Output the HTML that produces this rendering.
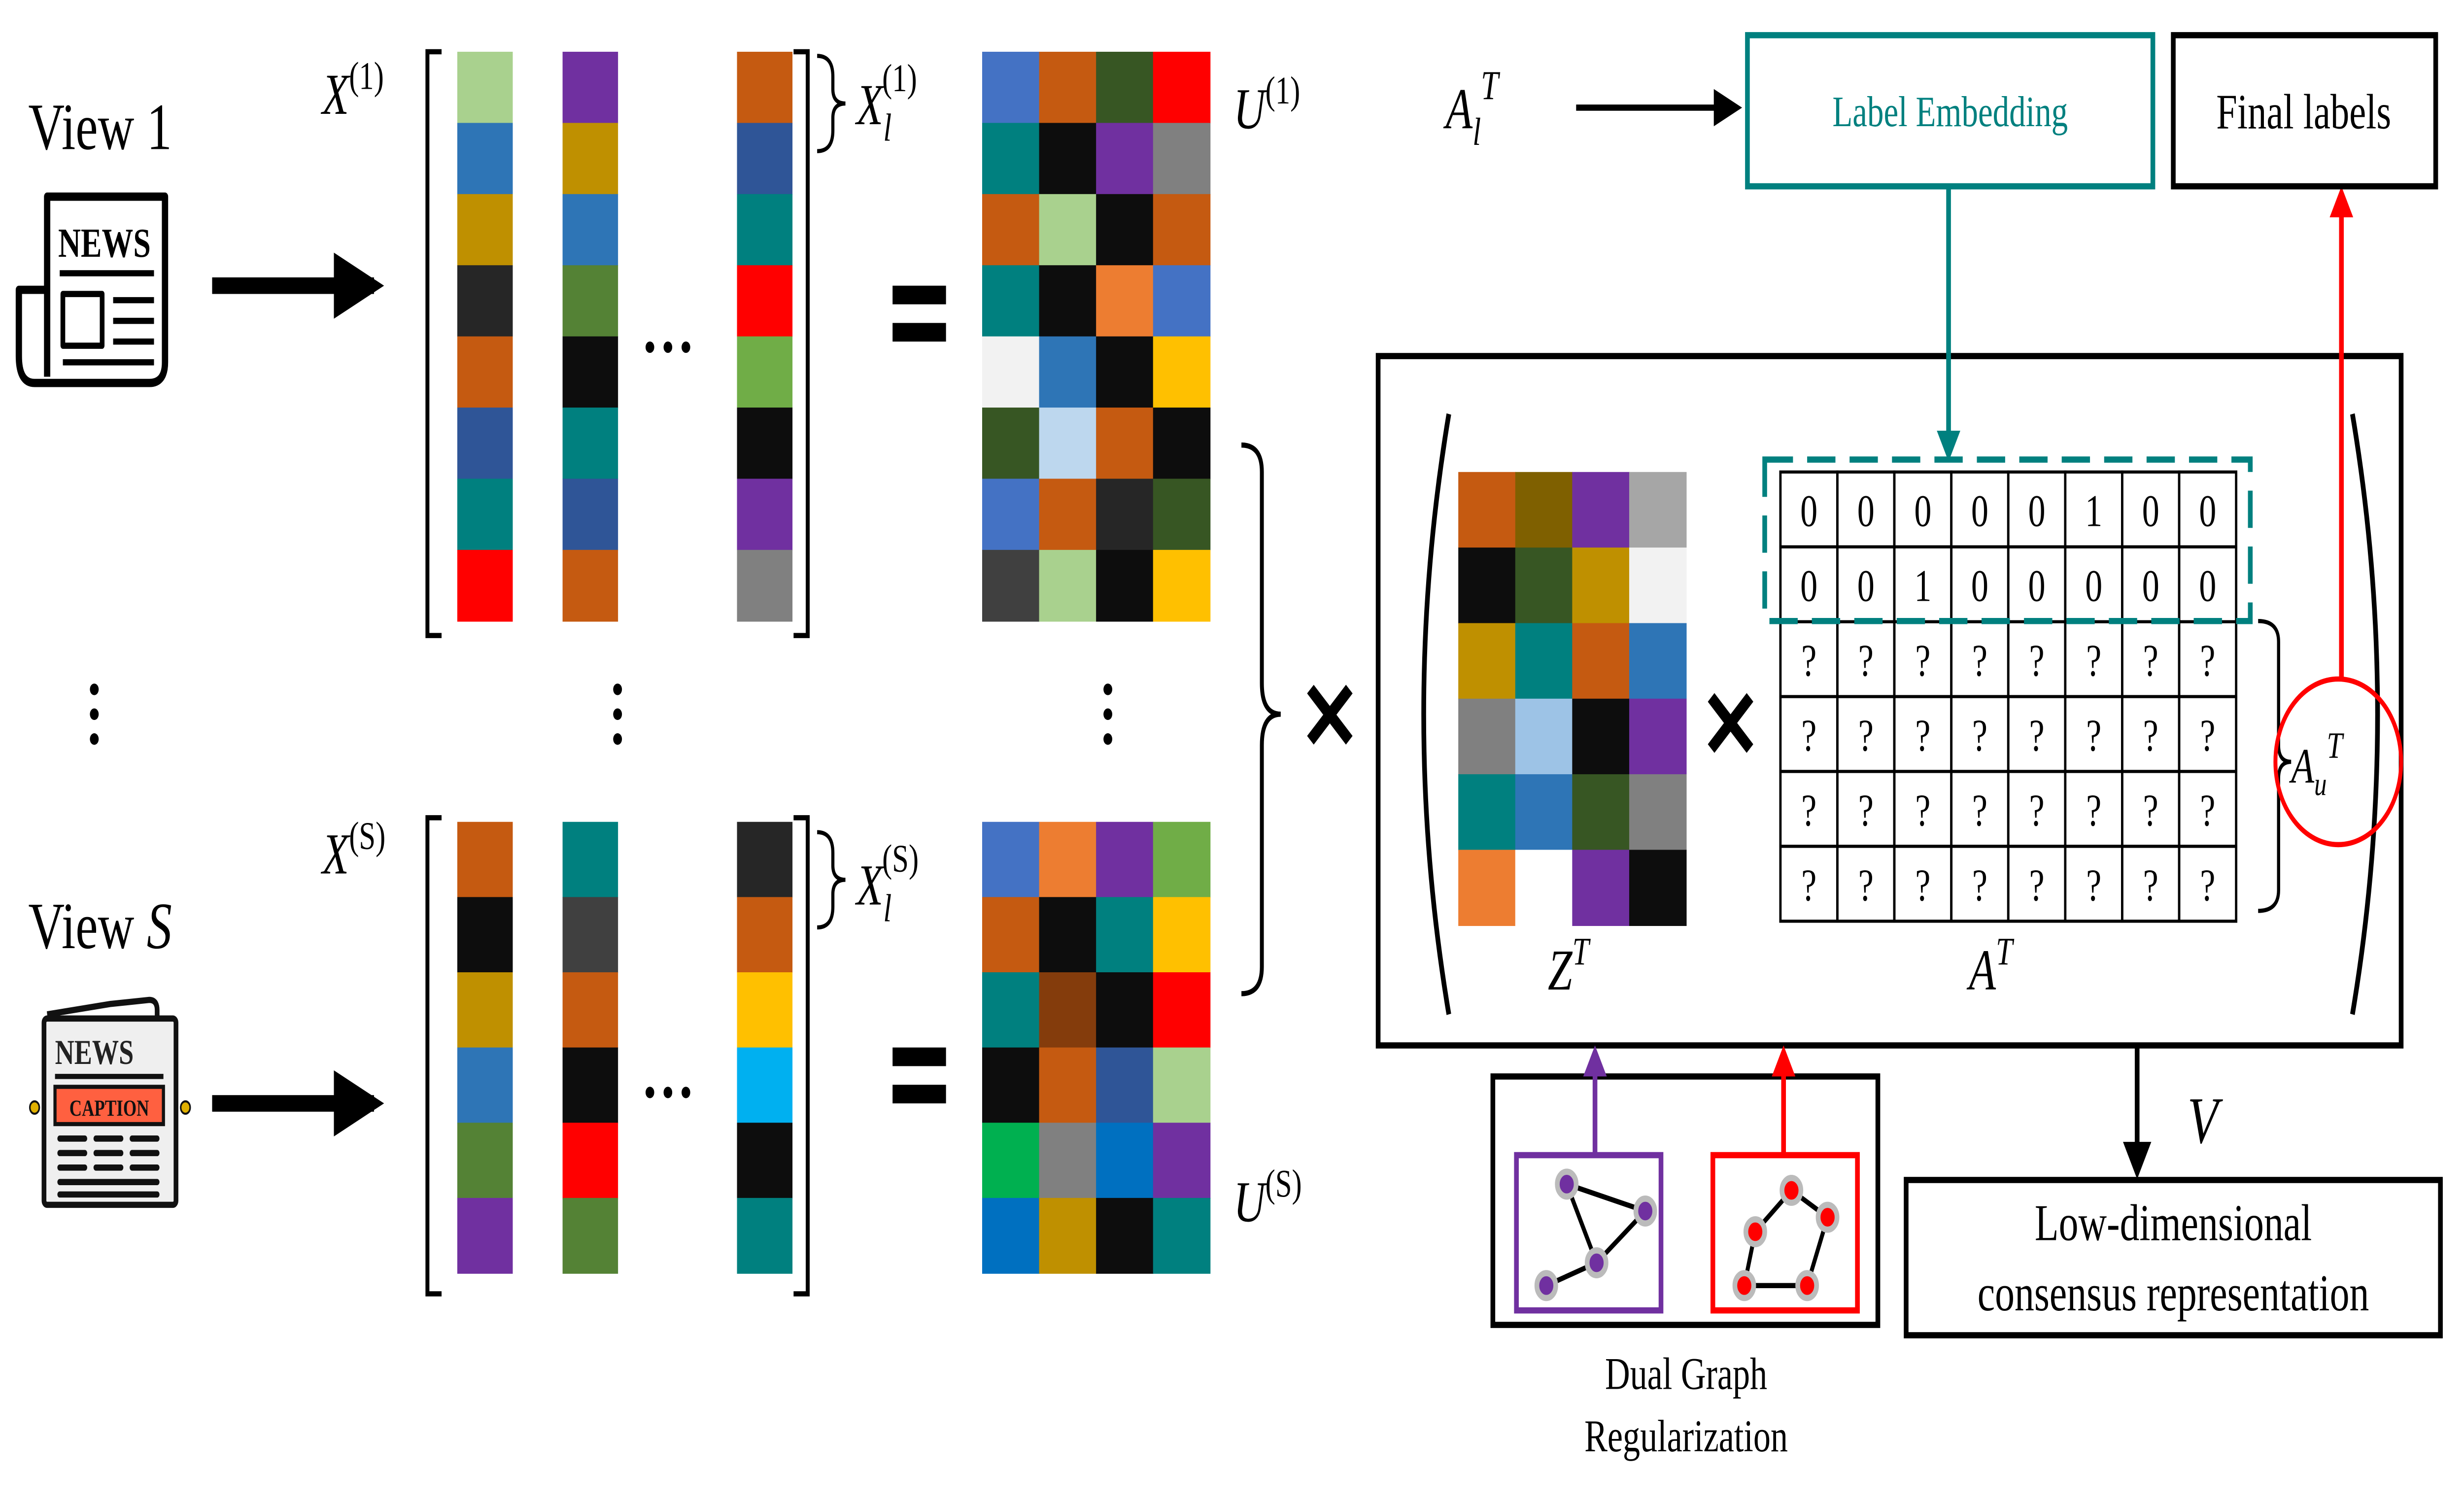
<!DOCTYPE html>
<html><head><meta charset="utf-8"><style>
html,body{margin:0;padding:0;background:#fff;width:100%;height:100%;overflow:hidden;}
svg{display:block;width:100vw;height:100vh;}
text{font-family:"Liberation Serif",serif;}
</style></head><body>
<svg id="fig" xmlns="http://www.w3.org/2000/svg" viewBox="0 0 1568 727" preserveAspectRatio="none">
<defs>
<marker id="ah" viewBox="0 0 10 10" refX="8" refY="5" markerWidth="4" markerHeight="4" orient="auto"><path d="M0,0 L10,5 L0,10 z" fill="#000"/></marker>
<marker id="ahs" viewBox="0 0 10 10" refX="8" refY="5" markerWidth="6" markerHeight="6" orient="auto"><path d="M0,0 L10,5 L0,10 z" fill="#000"/></marker>
<marker id="aht" viewBox="0 0 10 10" refX="8" refY="5" markerWidth="5" markerHeight="5" orient="auto"><path d="M0,0 L10,5 L0,10 z" fill="#00807f"/></marker>
<marker id="ahr" viewBox="0 0 10 10" refX="8" refY="5" markerWidth="5" markerHeight="5" orient="auto"><path d="M0,0 L10,5 L0,10 z" fill="#ff0000"/></marker>
<marker id="ahp" viewBox="0 0 10 10" refX="8" refY="5" markerWidth="5" markerHeight="5" orient="auto"><path d="M0,0 L10,5 L0,10 z" fill="#7030a0"/></marker>
</defs>

<text x="18" y="72" font-size="32">View 1</text>
<text x="18" y="458" font-size="32">View <tspan font-style="italic">S</tspan></text>

<g fill="none" stroke="#000" stroke-width="4" stroke-linejoin="round">
<path d="M30,95 H105 V175 Q105,185 95,185 H22 Q12,185 12,172 V140 H30 Z"/>
<path d="M30,140 V182"/>
<text x="37" y="124" font-size="20" font-weight="bold" stroke="none" fill="#000" font-family="Liberation Sans,sans-serif">NEWS</text>
<line x1="38" y1="132" x2="98" y2="132" stroke-width="3"/>
<rect x="40" y="142" width="25" height="25" stroke-width="3"/>
<line x1="72" y1="145" x2="98" y2="145" stroke-width="3"/>
<line x1="72" y1="155" x2="98" y2="155" stroke-width="3"/>
<line x1="72" y1="165" x2="98" y2="165" stroke-width="3"/>
<line x1="40" y1="175" x2="98" y2="175" stroke-width="3"/>
</g>

<g>
<path d="M30,490 L70,485 L95,483 Q100,483 100,488 V492" fill="none" stroke="#111" stroke-width="3"/>
<rect x="28" y="492" width="84" height="90" fill="#efefef" stroke="#111" stroke-width="3" rx="2"/>
<text x="35" y="514" font-size="17" font-weight="bold" fill="#222" font-family="Liberation Sans,sans-serif">NEWS</text>
<line x1="35" y1="520" x2="104" y2="520" stroke="#111" stroke-width="2.5"/>
<rect x="35" y="525" width="69" height="18" fill="#ff6040" stroke="#111" stroke-width="2"/>
<text x="69.5" y="539" font-size="11" font-weight="bold" text-anchor="middle" fill="#111" font-family="Liberation Sans,sans-serif">CAPTION</text>
<g stroke="#111" stroke-width="3" stroke-linecap="round">
<line x1="38" y1="550" x2="54" y2="550"/><line x1="61" y1="550" x2="77" y2="550"/><line x1="84" y1="550" x2="100" y2="550"/>
<line x1="38" y1="557" x2="54" y2="557"/><line x1="61" y1="557" x2="77" y2="557"/><line x1="84" y1="557" x2="100" y2="557"/>
<line x1="38" y1="564" x2="54" y2="564"/><line x1="61" y1="564" x2="77" y2="564"/><line x1="84" y1="564" x2="100" y2="564"/>
<line x1="38" y1="571" x2="100" y2="571"/><line x1="38" y1="577" x2="100" y2="577"/>
</g>
<circle cx="22" cy="535" r="3" fill="#e0b000" stroke="#111"/>
<circle cx="118" cy="535" r="3" fill="#e0b000" stroke="#111"/>
</g>

<line x1="135" y1="138" x2="238" y2="138" stroke="#000" stroke-width="8" marker-end="url(#ah)"/>
<line x1="135" y1="533" x2="238" y2="533" stroke="#000" stroke-width="8" marker-end="url(#ah)"/>

<text x="205" y="55" font-size="28" font-style="italic">X<tspan font-style="normal" font-size="19" dy="-12">(1)</tspan></text>
<text x="205" y="422" font-size="28" font-style="italic">X<tspan font-style="normal" font-size="19" dy="-12">(S)</tspan></text>

<g fill="none" stroke="#000" stroke-width="2.5">
<path d="M281,25 H272 V307 H281"/>
<path d="M505,25 H514 V307 H505"/>
<path d="M281,395 H272 V625 H281"/>
<path d="M505,395 H514 V625 H505"/>
</g>
<text x="408" y="170" font-size="34" font-weight="bold">…</text>
<text x="408" y="530" font-size="34" font-weight="bold">…</text>

<path d="M520,27 Q530,27 530,37 V43 Q530,50 538,50 Q530,50 530,57 V63 Q530,73 520,73" fill="none" stroke="#000" stroke-width="2"/>
<text x="545" y="60" font-size="28" font-style="italic">X<tspan font-size="19" dy="8">l</tspan><tspan font-style="normal" font-size="19" dx="-6" dy="-24">(1)</tspan></text>
<path d="M520,402 Q530,402 530,412 V418 Q530,425 538,425 Q530,425 530,432 V438 Q530,448 520,448" fill="none" stroke="#000" stroke-width="2"/>
<text x="545" y="437" font-size="28" font-style="italic">X<tspan font-size="19" dy="8">l</tspan><tspan font-style="normal" font-size="19" dx="-6" dy="-24">(S)</tspan></text>

<g fill="#000"><rect x="568" y="138" width="34" height="9"/><rect x="568" y="156" width="34" height="9"/></g>
<g fill="#000"><rect x="568" y="506" width="34" height="9"/><rect x="568" y="524" width="34" height="9"/></g>

<text x="785" y="62" font-size="28" font-style="italic">U<tspan font-style="normal" font-size="19" dy="-12">(1)</tspan></text>
<text x="785" y="590" font-size="28" font-style="italic">U<tspan font-style="normal" font-size="19" dy="-12">(S)</tspan></text>

<g fill="#000">
<circle cx="60" cy="333" r="2.8"/><circle cx="60" cy="345" r="2.8"/><circle cx="60" cy="357" r="2.8"/>
<circle cx="393" cy="333" r="2.8"/><circle cx="393" cy="345" r="2.8"/><circle cx="393" cy="357" r="2.8"/>
<circle cx="705" cy="333" r="2.8"/><circle cx="705" cy="345" r="2.8"/><circle cx="705" cy="357" r="2.8"/>
</g>

<path d="M790,215 Q803,215 803,228 V330 Q803,345 815,345 Q803,345 803,360 V467 Q803,480 790,480" fill="none" stroke="#000" stroke-width="2.5"/>
<text x="827" y="362" font-size="46" font-weight="bold" font-family="Liberation Sans,sans-serif">✕</text>

<rect x="877" y="172" width="651" height="333" fill="none" stroke="#000" stroke-width="3"/>
<path d="M922,200 Q890,345 922,490" fill="none" stroke="#000" stroke-width="3"/>
<path d="M1497,200 Q1529,345 1497,490" fill="none" stroke="#000" stroke-width="3"/>
<text x="1082" y="366" font-size="46" font-weight="bold" font-family="Liberation Sans,sans-serif">✕</text>
<text x="985" y="478" font-size="28" font-style="italic">Z<tspan font-size="19" dy="-12">T</tspan></text>
<text x="1253" y="478" font-size="28" font-style="italic">A<tspan font-size="19" dy="-12">T</tspan></text>

<g id="mats"></g>

<g id="atable"></g>
<rect x="1123" y="222" width="309" height="78" fill="none" stroke="#00807f" stroke-width="3" stroke-dasharray="18,9"/>
<path d="M1437,300 Q1450,300 1450,310 V360 Q1450,368 1458,368 Q1450,368 1450,376 V430 Q1450,440 1437,440" fill="none" stroke="#000" stroke-width="2"/>
<circle cx="1488" cy="368" r="40" fill="none" stroke="#ff0000" stroke-width="2.5"/>
<text x="1458" y="378" font-size="24" font-style="italic">A<tspan font-size="16" dy="6">u</tspan><tspan font-size="18" dy="-18">T</tspan></text>
<line x1="1490" y1="328" x2="1490" y2="93" stroke="#ff0000" stroke-width="3" marker-end="url(#ahr)"/>

<rect x="1383" y="17" width="167" height="73" fill="none" stroke="#000" stroke-width="3"/>
<text x="1466" y="62" font-size="24" text-anchor="middle">Final labels</text>
<rect x="1112" y="17" width="258" height="73" fill="none" stroke="#00807f" stroke-width="3"/>
<text x="1241" y="61" font-size="21" text-anchor="middle" fill="#00807f">Label Embedding</text>
<text x="920" y="62" font-size="28" font-style="italic">A<tspan font-size="19" dy="8">l</tspan><tspan font-size="20" dy="-22">T</tspan></text>
<line x1="1003" y1="52" x2="1105" y2="52" stroke="#000" stroke-width="3" marker-end="url(#ahs)"/>
<line x1="1240" y1="90" x2="1240" y2="220" stroke="#00807f" stroke-width="3" marker-end="url(#aht)"/>

<line x1="1360" y1="505" x2="1360" y2="566" stroke="#000" stroke-width="3" marker-end="url(#ahs)"/>
<text x="1392" y="552" font-size="32" font-style="italic">V</text>
<rect x="1213" y="570" width="340" height="75" fill="none" stroke="#000" stroke-width="3"/>
<text x="1383" y="599" font-size="25" text-anchor="middle">Low-dimensional</text>
<text x="1383" y="633" font-size="25" text-anchor="middle">consensus representation</text>

<rect x="950" y="520" width="245" height="120" fill="none" stroke="#000" stroke-width="3"/>
<rect x="965" y="558" width="92" height="75" fill="none" stroke="#7030a0" stroke-width="3"/>
<rect x="1090" y="558" width="92" height="75" fill="none" stroke="#ff0000" stroke-width="3"/>
<line x1="1015" y1="558" x2="1015" y2="508" stroke="#7030a0" stroke-width="3" marker-end="url(#ahp)"/>
<line x1="1135" y1="558" x2="1135" y2="508" stroke="#ff0000" stroke-width="3" marker-end="url(#ahr)"/>
<g>
<path d="M997,572 L1047,585 L1016,610 L984,621 M997,572 L1016,610" stroke="#000" stroke-width="2.5" fill="none"/>
<g fill="#7030a0" stroke="#bbb" stroke-width="3"><circle cx="997" cy="572" r="6"/><circle cx="1047" cy="585" r="6"/><circle cx="1016" cy="610" r="6"/><circle cx="984" cy="621" r="6"/></g>
</g>
<g>
<path d="M1140,575 L1163,588 L1150,621 L1110,621 L1117,595 Z" stroke="#000" stroke-width="2.5" fill="none"/>
<g fill="#ff0000" stroke="#bbb" stroke-width="3"><circle cx="1140" cy="575" r="6"/><circle cx="1163" cy="588" r="6"/><circle cx="1150" cy="621" r="6"/><circle cx="1110" cy="621" r="6"/><circle cx="1117" cy="595" r="6"/></g>
</g>
<text x="1073" y="671" font-size="22" text-anchor="middle">Dual Graph</text>
<text x="1073" y="701" font-size="22" text-anchor="middle">Regularization</text>

<script>
const NS="http://www.w3.org/2000/svg";
const C={lg:"#a9d18e",b:"#2e75b6",g:"#bf9000",d:"#262626",o:"#c55a11",db:"#2f5597",t:"#00807f",r:"#ff0000",p:"#7030a0",gr:"#548235",k:"#0d0d0d",gn:"#70ad47",gy:"#808080",b4:"#4472c4",dg:"#375623",or:"#ed7d31",w:"#f2f2f2",y:"#ffc000",lb:"#bdd7ee",d4:"#404040",cy:"#00b0f0",br:"#843c0c",g5:"#00b050",b7:"#0070c0",ol:"#7f6000",la:"#a6a6a6",wh:"#ffffff",lb2:"#9dc3e6"};
const x1Cols=[["lg","b","g","d","o","db","t","r"],["p","g","b","gr","k","t","db","o"],["o","db","t","r","gn","k","p","gy"]];
const xsCols=[["o","k","g","b","gr","p"],["t","d4","o","k","r","gr"],["d","o","y","cy","k","t"]];
const u1Rows=[["b4","o","dg","r"],["t","k","p","gy"],["o","lg","k","o"],["t","k","or","b4"],["w","b","k","y"],["dg","lb","o","k"],["b4","o","d","dg"],["d4","lg","k","y"]];
const usRows=[["b4","or","p","gn"],["o","k","t","y"],["t","br","k","r"],["k","o","db","lg"],["g5","gy","b7","p"],["b7","g","k","t"]];
const ztRows=[["o","ol","p","la"],["k","dg","g","w"],["g","t","o","b"],["gy","lb2","k","p"],["t","b","dg","gy"],["or","wh","p","k"]];
const aRows=[["0","0","0","0","0","1","0","0"],["0","0","1","0","0","0","0","0"],["?","?","?","?","?","?","?","?"],["?","?","?","?","?","?","?","?"],["?","?","?","?","?","?","?","?"],["?","?","?","?","?","?","?","?"]];
const mats=document.getElementById("mats");
function rect(x,y,w,h,fill,name){const r=document.createElementNS(NS,"rect");r.setAttribute("x",x);r.setAttribute("y",y);r.setAttribute("width",w+0.3);r.setAttribute("height",h+0.3);r.setAttribute("fill",fill);


mats.appendChild(r);}
function cols(data,xs,y0,y1,w,name){data.forEach((col,i)=>{const h=(y1-y0)/col.length;col.forEach((c,j)=>rect(xs[i],y0+j*h,w,h,C[c],name+"-cell"));});}
cols(x1Cols,[291,358,469],25,300,35,"x1");
cols(xsCols,[291,358,469],397,615,35,"xs");
function grid(data,x0,x1,y0,y1,name){const h=(y1-y0)/data.length;data.forEach((row,j)=>{const w=(x1-x0)/row.length;row.forEach((c,i)=>rect(x0+i*w,y0+j*h,w,h,C[c],name+"-cell"));});}
grid(u1Rows,625,770,25,300,"u1");
grid(usRows,625,770,397,615,"us");
grid(ztRows,928,1073,228,447,"zt");
const at=document.getElementById("atable");
const ax0=1133,ax1=1423,ay0=228,ay1=445;
const cw=(ax1-ax0)/8,rh=(ay1-ay0)/aRows.length;
aRows.forEach((row,j)=>row.forEach((v,i)=>{
 const r=document.createElementNS(NS,"rect");
 r.setAttribute("x",ax0+i*cw);r.setAttribute("y",ay0+j*rh);r.setAttribute("width",cw);r.setAttribute("height",rh);
 r.setAttribute("fill","#fff");r.setAttribute("stroke","#000");r.setAttribute("stroke-width","1.5");
 
 
 at.appendChild(r);
 const t=document.createElementNS(NS,"text");
 t.setAttribute("x",ax0+i*cw+cw/2);t.setAttribute("y",ay0+j*rh+rh/2+8);t.setAttribute("text-anchor","middle");t.setAttribute("font-size","22");
 t.textContent=v;
 
 
 at.appendChild(t);
}));
</script>
</svg>
</body></html>
